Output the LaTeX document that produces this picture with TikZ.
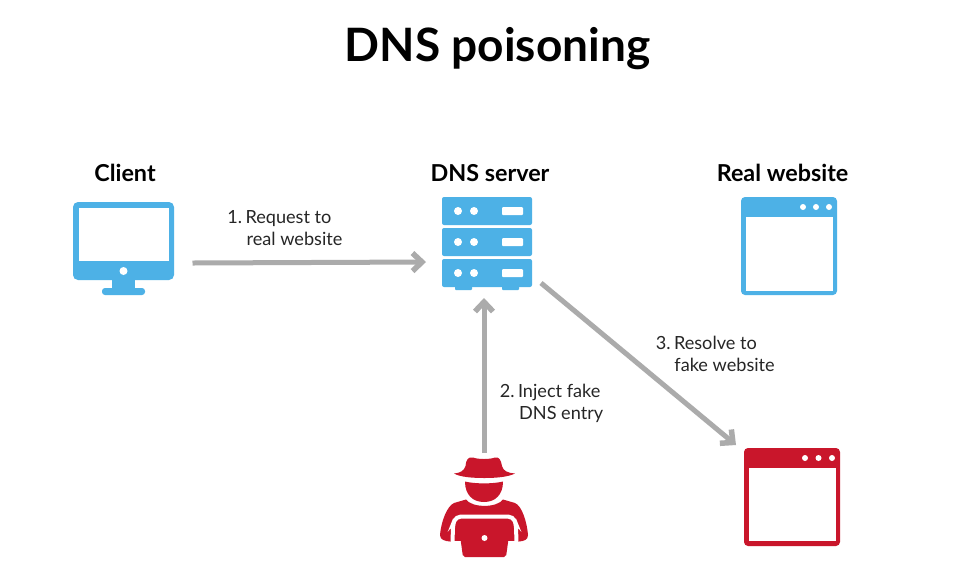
\documentclass[tikz,border=0pt]{standalone}
\usepackage{fontspec}
\setmainfont{Lato}
\usetikzlibrary{arrows.meta}
\definecolor{iconblue}{HTML}{4DB1E6}
\definecolor{iconred}{HTML}{C9162B}
\definecolor{arrowgray}{HTML}{ABABAB}
\def\px{0.75pt}
\tikzset{
  flow/.style={draw=arrowgray,line width=5*\px,-{Straight Barb[length=9.5*\px,width=18*\px,line width=5.5*\px]}},
  box/.style={inner sep=0pt,outer sep=0pt,minimum width=#1*\px},
  heading/.style={font=\fontsize{17.5pt}{20pt}\selectfont\bfseries,text=black,inner sep=0pt},
  note/.style={font=\fontsize{13.6pt}{16.5pt}\selectfont,text=black!85,align=left,anchor=north west,inner sep=0pt},
  hole/.style={fill=white,draw=none}
}
\begin{document}
\begin{tikzpicture}[x=0.75pt,y=-0.75pt]
\useasboundingbox (0,0) rectangle (961,587);
\fill[white] (0,0) rectangle (961,587);

\node[font=\fontsize{34.5pt}{40pt}\selectfont\bfseries,inner sep=0pt] (title) at (497.5,49) {DNS poisoning};
\node[heading] (lclient) at (125,173) {Client};
\node[heading] (lserver) at (490,173) {DNS server};
\node[heading] (lreal) at (782.5,173) {Real website};

% anchors of the icons
\node[box=101,minimum height=93*\px] (client) at (123.5,248.5) {};
\node[box=90,minimum height=93*\px] (server) at (487,243.5) {};
\node[box=96,minimum height=98*\px] (real) at (789,246) {};
\node[box=96,minimum height=98*\px] (fake) at (792,497) {};
\node[box=88,minimum height=100*\px] (hacker) at (484,507) {};

% client monitor
\fill[iconblue,rounded corners=5*\px] (73,202) rectangle (174,280);
\fill[white] (79,207.5) rectangle (168.5,261);
\fill[iconblue] (112,279) rectangle (135,290);
\fill[iconblue,rounded corners=3*\px] (102,288) rectangle (145,295);
\fill[hole] (123.5,271) circle (4);

% server
\foreach \y in {197,228,259}{
  \fill[iconblue,rounded corners=2*\px] (442,\y) rectangle (532,\y+28);
  \fill[hole] (458,\y+14) circle (4);
  \fill[hole] (474,\y+14) circle (4);
  \fill[hole,rounded corners=1*\px] (502,\y+10) rectangle (523,\y+18);
}
\fill[iconblue,rounded corners=1*\px] (455,285) rectangle (472,290);
\fill[iconblue,rounded corners=1*\px] (502,285) rectangle (519,290);

% real website window
\fill[iconblue,rounded corners=4*\px] (741,197) rectangle (837,295);
\fill[white] (745.5,217) rectangle (832.5,290.5);
\foreach \x in {803,816,829}{\fill[hole] (\x,207) circle (3);}

% fake website window
\fill[iconred,rounded corners=4*\px] (744,448) rectangle (840,546);
\fill[white] (748.5,468) rectangle (835.5,541);
\foreach \x in {805,818.5,832}{\fill[hole] (\x,458) circle (3);}

% attacker
\fill[iconred] (454,473.5) .. controls (460,473) and (464,471) .. (465.5,466)
  .. controls (466,460) and (468,456.5) .. (473,457.5)
  .. controls (478,459.5) and (490,459.5) .. (495,457.5)
  .. controls (499,456.5) and (501,460) .. (502,466)
  .. controls (503,471) and (508,473) .. (515,473.5)
  .. controls (508,477) and (496,478) .. (484.5,478)
  .. controls (472,478) and (460,477) .. (454,473.5) -- cycle;
\fill[iconred] (465,481.5) .. controls (475,484) and (493,484) .. (503,481.5)
  .. controls (503,495) and (495,502) .. (484,502)
  .. controls (473,502) and (465,495) .. (465,481.5) -- cycle;
\fill[iconred] (440,535) .. controls (441,522) and (447,506) .. (454,503)
  -- (466,499.5) .. controls (472,508) and (497,508) .. (503,499.5)
  -- (515,503) .. controls (522,506) and (527,522) .. (528,535)
  .. controls (528,540) and (524,541) .. (519,541.5) -- (450,541.5)
  .. controls (445,541) and (440,540) .. (440,535) -- cycle;
\draw[white,line width=4*\px,rounded corners=5*\px] (452.5,545) -- (453,524) -- (456,516.5) -- (513,516.5) -- (516,524) -- (516.5,545);
\fill[white] (452,541) rectangle (517,560);
\fill[iconred,rounded corners=2*\px] (458,521) -- (511,521) -- (506,557) -- (463,557) -- cycle;
\fill[hole] (484.5,538) circle (3);

% connectors
\draw[flow] ([xshift=18.5*\px,yshift=-14.5*\px]client.east) -- ([xshift=-16*\px,yshift=-18.5*\px]server.west);
\draw[flow] ([yshift=4*\px]hacker.north) -- ([xshift=-3*\px,yshift=-8*\px]server.south);
\draw[flow] ([xshift=9*\px,yshift=7*\px]server.south east) -- ([xshift=-8*\px,yshift=3*\px]fake.north west);

% labels
\node[note] (n1) at (227,210.5) {1.\hspace{2.6pt}Request to\\\hspace*{14.5pt}real website};
\node[note] (n2) at (499.5,384) {2.\hspace{2.6pt}Inject fake\\\hspace*{14.5pt}DNS entry};
\node[note] (n3) at (655.5,336) {3.\hspace{2.6pt}Resolve to\\\hspace*{14pt}fake website};
\end{tikzpicture}
\end{document}
